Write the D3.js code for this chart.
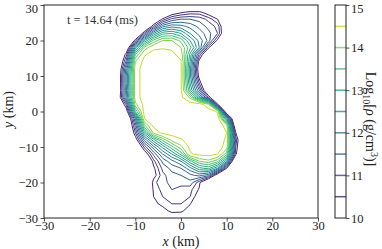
<!DOCTYPE html>
<html>
<head>
<meta charset="utf-8">
<script src="https://cdn.jsdelivr.net/npm/d3@7"></script>
<style>
body { margin: 0; background: #fff; }
svg text { font-family: "Liberation Serif", "DejaVu Serif", serif; fill: #222; }
</style>
</head>
<body>
<svg width="382" height="249"></svg>
<script>
// grid of log10 density (g/cm^3); rows go from y = 30 km down to y = -30 km
var xCols = [-16, -14, -12, -10, -8, -6, -4, -2, 0, 2, 4, 6, 8, 10, 12, 14, 16];
var yRows = [30, 28, 26, 24, 22, 20, 18, 16, 14, 12, 10, 8, 6, 4, 2, 0, -2, -4, -6, -8, -10, -12, -14, -16, -18, -20, -22, -24, -26, -28, -30];
var logRho = [
    [9, 9, 9, 9, 9, 9, 9, 9, 9, 9, 9, 9, 9, 9, 9, 9, 9],
    [9, 9, 9, 9, 9, 9, 9, 10.1, 10.4, 10.6, 10.6, 10.2, 9.2, 9, 9, 9, 9],
    [9, 9, 9, 9, 9, 9.6, 10.6, 11.2, 11.4, 11.4, 11.3, 11.0, 10.5, 9.4, 9, 9, 9],
    [9, 9, 9, 9, 9.4, 10.8, 11.9, 12.2, 12.1, 11.9, 11.6, 11.3, 11.0, 9.7, 9, 9, 9],
    [9, 9, 9, 9.2, 10.9, 12.3, 13.1, 13.2, 12.9, 12.3, 11.9, 11.5, 11.1, 9.7, 9, 9, 9],
    [9, 9, 9, 10.7, 12.6, 13.6, 14.1, 14.1, 13.7, 12.9, 12.2, 11.6, 10.4, 9.2, 9, 9, 9],
    [9, 9, 9.8, 12.4, 13.9, 14.4, 14.45, 14.4, 14.1, 13.3, 12.3, 10.6, 9.3, 9, 9, 9, 9],
    [9, 9.2, 10.7, 13.5, 14.45, 14.7, 14.75, 14.65, 14.3, 12.8, 11.0, 9.5, 9, 9, 9, 9, 9],
    [9, 9.4, 11.2, 14.1, 14.65, 14.75, 14.8, 14.75, 14.55, 12.6, 10.3, 9.2, 9, 9, 9, 9, 9],
    [9, 9.5, 11.8, 14.3, 14.7, 14.8, 14.8, 14.8, 14.55, 12.4, 10.1, 9, 9, 9, 9, 9, 9],
    [9, 9.6, 12.0, 14.3, 14.7, 14.8, 14.85, 14.8, 14.55, 12.4, 10.3, 9, 9, 9, 9, 9, 9],
    [9, 9.6, 12.0, 14.3, 14.7, 14.85, 14.85, 14.8, 14.55, 12.6, 10.8, 9.2, 9, 9, 9, 9, 9],
    [9, 9.6, 11.9, 14.3, 14.7, 14.85, 14.85, 14.8, 14.55, 12.9, 11.4, 9.6, 9, 9, 9, 9, 9],
    [9, 9.7, 12.0, 14.3, 14.7, 14.85, 14.85, 14.8, 14.6, 14.0, 12.5, 10.8, 9.3, 9, 9, 9, 9],
    [9, 9.2, 10.9, 14.0, 14.65, 14.8, 14.85, 14.85, 14.8, 14.7, 14.75, 14.2, 10.6, 9.2, 9, 9, 9],
    [9, 9.1, 10.1, 13.2, 14.65, 14.8, 14.85, 14.85, 14.85, 14.8, 14.8, 14.7, 14.45, 9.6, 9.1, 9, 9],
    [9, 9, 9.4, 11.7, 14.5, 14.8, 14.85, 14.85, 14.85, 14.85, 14.85, 14.8, 14.75, 12.6, 9, 9, 9],
    [9, 9, 9.2, 11.2, 13.7, 14.6, 14.8, 14.85, 14.85, 14.85, 14.85, 14.85, 14.8, 14.3, 9.6, 9, 9],
    [9, 9, 9.1, 10.8, 12.8, 14.2, 14.6, 14.7, 14.75, 14.85, 14.85, 14.85, 14.85, 14.5, 10.5, 9, 9],
    [9, 9, 9, 10.2, 11.8, 12.8, 13.6, 14.2, 14.45, 14.7, 14.85, 14.85, 14.8, 14.4, 11.0, 9, 9],
    [9, 9, 9, 9.5, 10.9, 11.9, 12.7, 13.4, 14.0, 14.6, 14.8, 14.85, 14.75, 14.3, 10.8, 9, 9],
    [9, 9, 9, 9, 10.1, 11.2, 12.0, 12.6, 13.3, 14.45, 14.6, 14.65, 14.5, 13.6, 10.6, 9, 9],
    [9, 9, 9, 9, 9.2, 10.7, 11.5, 11.9, 12.3, 13.1, 13.8, 14.0, 13.6, 12.4, 9.3, 9, 9],
    [9, 9, 9, 9, 9, 10.4, 11.2, 11.5, 11.7, 12.2, 12.8, 13.0, 12.3, 10.5, 9, 9, 9],
    [9, 9, 9, 9, 9, 10.3, 11.0, 11.3, 11.4, 11.6, 11.8, 11.5, 10.0, 9, 9, 9, 9],
    [9, 9, 9, 9, 9.2, 10.7, 11.0, 11.2, 11.2, 11.3, 10.6, 9.4, 9, 9, 9, 9, 9],
    [9, 9, 9, 9, 9.1, 10.6, 10.9, 11.1, 11.0, 10.9, 10.45, 9, 9, 9, 9, 9, 9],
    [9, 9, 9, 9, 9, 10.5, 10.8, 10.9, 10.9, 10.8, 10.2, 9, 9, 9, 9, 9, 9],
    [9, 9, 9, 9, 9, 10.3, 10.7, 10.8, 10.8, 10.55, 9.5, 9, 9, 9, 9, 9, 9],
    [9, 9, 9, 9, 9, 9.3, 10.2, 10.7, 10.65, 10.1, 9.2, 9, 9, 9, 9, 9, 9],
    [9, 9, 9, 9, 9, 9, 9, 9.8, 9.8, 9, 9, 9, 9, 9, 9, 9, 9]
];
var levels = [10.5, 10.8, 11.1, 11.4, 11.7, 12.0, 12.3, 12.6, 12.9, 13.2, 13.5, 13.8, 14.1, 14.5];
var barLevels = [10.5, 11, 11.5, 12, 12.5, 13, 13.5, 14, 14.5];
var xTicks = [-30, -20, -10, 0, 10, 20, 30];
var yTicks = [-30, -20, -10, 0, 10, 20, 30];
var barTicks = [10, 11, 12, 13, 14, 15];
var timeLabel = "t = 14.64 (ms)";

var svg = d3.select("svg");
var plot = {left: 44, right: 318, top: 5, bottom: 218};
var bar = {left: 335, right: 346};

var x = d3.scaleLinear().domain([-30, 30]).range([plot.left, plot.right]);
var y = d3.scaleLinear().domain([-30, 30]).range([plot.bottom, plot.top]);
var barScale = d3.scaleLinear().domain([10, 15]).range([plot.bottom, plot.top]);
function colour(v) { return d3.interpolateViridis((v - 10) / 5); }

// grid index -> km (d3.contours puts value k at coordinate k + 0.5)
var nx = xCols.length, ny = yRows.length;
var colScale = d3.scaleLinear().domain([0, nx - 1]).range([xCols[0], xCols[nx - 1]]);
var rowScale = d3.scaleLinear().domain([0, ny - 1]).range([yRows[0], yRows[ny - 1]]);
var toPixels = d3.geoTransform({
    point: function(px, py) {
        this.stream.point(x(colScale(px - 0.5)), y(rowScale(py - 0.5)));
    }
});
var path = d3.geoPath(toPixels);

var contours = d3.contours()
    .size([nx, ny])
    .thresholds(levels)(logRho.flat());

svg.append("clipPath").attr("id", "clip")
    .append("rect")
    .attr("x", plot.left).attr("y", plot.top)
    .attr("width", plot.right - plot.left).attr("height", plot.bottom - plot.top);

// CONTOURS
svg.append("g")
    .attr("clip-path", "url(#clip)")
    .selectAll("path")
    .data(contours)
    .enter()
    .append("path")
    .attr("d", path)
    .attr("fill", "none")
    .attr("stroke", function(d) { return colour(d.value); })
    .attr("stroke-width", 1)
    .attr("stroke-linejoin", "round");

// AXES
var xAxis = d3.axisBottom(x).tickValues(xTicks).tickSize(3.5).tickPadding(0).tickFormat(d3.format("d"));
var yAxis = d3.axisLeft(y).tickValues(yTicks).tickSize(3.5).tickPadding(2.5).tickFormat(d3.format("d"));

svg.append("g")
    .attr("transform", "translate(0," + plot.bottom + ")")
    .call(xAxis)
    .call(styleAxis);
svg.append("g")
    .attr("transform", "translate(" + plot.left + ",0)")
    .call(yAxis)
    .call(styleAxis)
    .call(keepTopLabelIn, 30);

svg.append("rect")
    .attr("x", plot.left).attr("y", plot.top)
    .attr("width", plot.right - plot.left).attr("height", plot.bottom - plot.top)
    .attr("fill", "none").attr("stroke", "#222").attr("stroke-width", 1);

var xLabel = svg.append("text")
    .attr("x", (plot.left + plot.right) / 2).attr("y", 246)
    .attr("text-anchor", "middle").style("font-size", "14px");
xLabel.append("tspan").style("font-style", "italic").text("x");
xLabel.append("tspan").text(" (km)");

var yLabel = svg.append("text")
    .attr("transform", "translate(13," + (y(0) - 2) + ") rotate(-90)")
    .attr("text-anchor", "middle").style("font-size", "14px");
yLabel.append("tspan").style("font-style", "italic").text("y");
yLabel.append("tspan").text(" (km)");

svg.append("text")
    .attr("x", 67).attr("y", 24)
    .style("font-size", "12.5px").style("fill", "#333")
    .text(timeLabel);

// COLORBAR
svg.append("g")
    .selectAll("line")
    .data(barLevels)
    .enter()
    .append("line")
    .attr("x1", bar.left).attr("x2", bar.right)
    .attr("y1", function(d) { return barScale(d); })
    .attr("y2", function(d) { return barScale(d); })
    .attr("stroke", colour)
    .attr("stroke-width", 1.5)
    .attr("opacity", 0.8);

svg.append("rect")
    .attr("x", bar.left).attr("y", plot.top)
    .attr("width", bar.right - bar.left).attr("height", plot.bottom - plot.top)
    .attr("fill", "none").attr("stroke", "#222").attr("stroke-width", 1);

svg.append("g")
    .attr("transform", "translate(" + bar.right + ",0)")
    .call(d3.axisRight(barScale).tickValues(barTicks).tickSize(3.5).tickPadding(1.5).tickFormat(d3.format("d")))
    .call(styleAxis)
    .call(keepTopLabelIn, 15);

var barLabel = svg.append("text")
    .attr("transform", "translate(366,119) rotate(90)")
    .attr("text-anchor", "middle").style("font-size", "14px");
barLabel.append("tspan").text("Log");
barLabel.append("tspan").attr("dy", 3).style("font-size", "10px").text("10");
barLabel.append("tspan").attr("dy", -3).text("[");
barLabel.append("tspan").style("font-style", "italic").text("ρ");
barLabel.append("tspan").text(" (g/cm");
barLabel.append("tspan").attr("dy", -5).style("font-size", "10px").text("3");
barLabel.append("tspan").attr("dy", 5).text(")]");

////////////////////////////////////////////////////////////////////////////////

function styleAxis(g) {
    g.select(".domain").remove();
    g.selectAll(".tick line").attr("stroke", "#222").attr("stroke-width", 0.8);
    g.selectAll(".tick text")
        .style("font-family", "'Liberation Serif', 'DejaVu Serif', serif")
        .style("font-size", "12.5px")
        .attr("fill", "#222");
}

// the label at the very top would poke out of the picture, nudge it down a little
function keepTopLabelIn(g, top) {
    g.selectAll(".tick")
        .filter(function(d) { return d === top; })
        .select("text")
        .attr("dy", "0.62em");
}
</script>
</body>
</html>
